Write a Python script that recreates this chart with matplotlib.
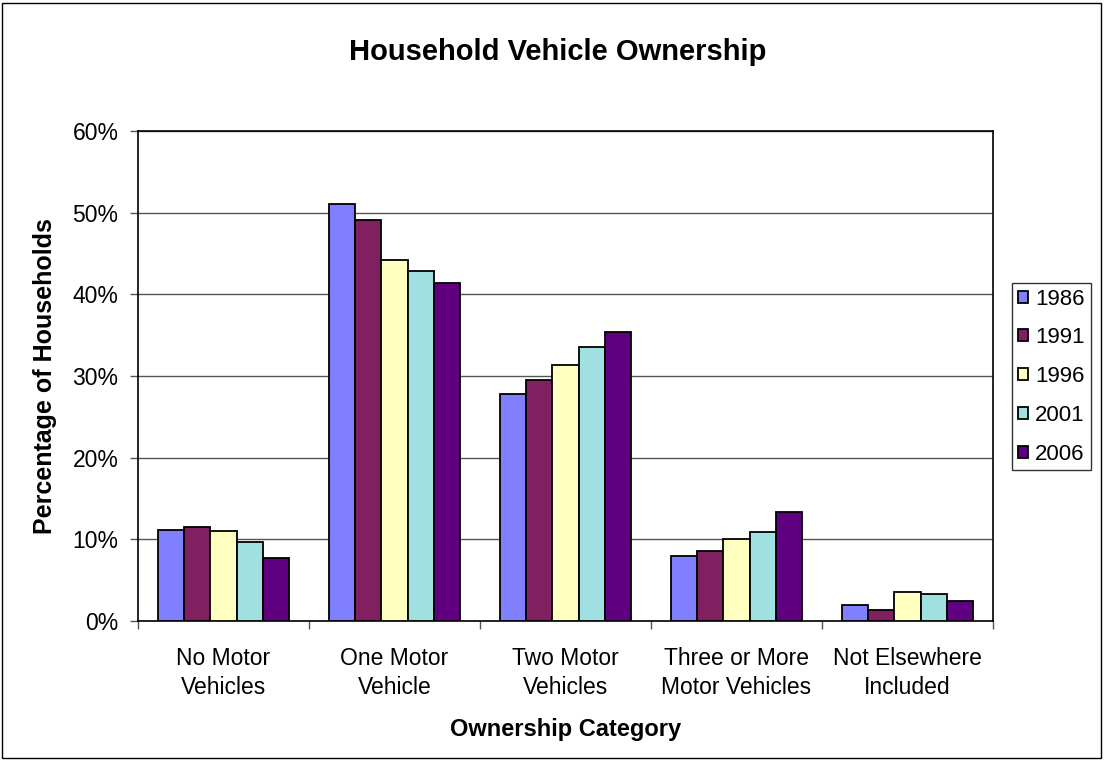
import matplotlib.pyplot as plt
import matplotlib.patches as mpatches
import numpy as np

# Share of households in each vehicle ownership category, by census year
categories = ["No Motor\nVehicles", "One Motor\nVehicle", "Two Motor\nVehicles",
              "Three or More\nMotor Vehicles", "Not Elsewhere\nIncluded"]
years = ["1986", "1991", "1996", "2001", "2006"]
share_1986 = [11.2, 51.1, 27.8, 8.0, 2.0]
share_1991 = [11.5, 49.1, 29.5, 8.6, 1.3]
share_1996 = [11.0, 44.2, 31.4, 10.0, 3.5]
share_2001 = [9.7, 42.9, 33.6, 10.9, 3.3]
share_2006 = [7.7, 41.4, 35.4, 13.3, 2.4]

series = [share_1986, share_1991, share_1996, share_2001, share_2006]
colors = ["#8080FF", "#802060", "#FFFFC0", "#A0E0E0", "#600080"]

plt.rcParams['font.family'] = ['Liberation Sans', 'DejaVu Sans']

fig = plt.figure(figsize=(11.05, 7.6), dpi=100)
ax = fig.add_axes([138 / 1105, 139 / 760, 855 / 1105, 490 / 760])

x = np.arange(len(categories))
width = 1 / 6.5
for i, (vals, col, yr) in enumerate(zip(series, colors, years)):
    offs = (i - 2) * width
    ax.bar(x + offs, vals, width, color=col, edgecolor='black', linewidth=1.3,
           label=yr, zorder=3)

ax.set_xlim(-0.5, len(categories) - 0.5)
ax.set_ylim(0, 60)
ax.set_yticks(range(0, 61, 10))
ax.set_yticklabels([f"{v}%" for v in range(0, 61, 10)], fontsize=16.5)
ax.yaxis.grid(True, color='#555555', linewidth=1, zorder=0)

# category labels sit between tick marks drawn on the boundaries
ax.set_xticks(np.arange(-0.5, len(categories), 1))
ax.set_xticklabels([])
ax.set_xticks(x, minor=True)
ax.set_xticklabels(categories, minor=True, fontsize=16.5, linespacing=1.3)
ax.tick_params(axis='x', which='minor', length=0, pad=19)
ax.tick_params(axis='x', which='major', length=6, width=1, color='#555555')
ax.tick_params(axis='y', length=6, width=1, color='#555555', pad=8)

for side in ax.spines.values():
    side.set_linewidth(1.2)
    side.set_color('black')

ax.set_xlabel("Ownership Category", fontsize=17, fontweight='bold', labelpad=14)
ax.set_ylabel("Percentage of Households", fontsize=18, fontweight='bold', labelpad=11)
fig.text(558 / 1105, 1 - 52 / 760, "Household Vehicle Ownership", ha='center',
         va='center', fontsize=21, fontweight='bold')

leg = ax.legend(loc='upper left', bbox_to_anchor=(1012 / 1105, 1 - 283 / 760),
                bbox_transform=fig.transFigure, fontsize=16, frameon=True,
                fancybox=False, edgecolor='black', handlelength=0.45,
                handleheight=0.45, handletextpad=0.35, labelspacing=0.8,
                borderpad=0.25, borderaxespad=0)
leg.get_frame().set_linewidth(1)

# thin frame round the whole chart
fig.patches.append(mpatches.Rectangle((2 / 1105, 2 / 760), 1099 / 1105, 755 / 760,
                                      transform=fig.transFigure, fill=False,
                                      edgecolor='black', linewidth=1))

fig.savefig("out.png", dpi=100)
